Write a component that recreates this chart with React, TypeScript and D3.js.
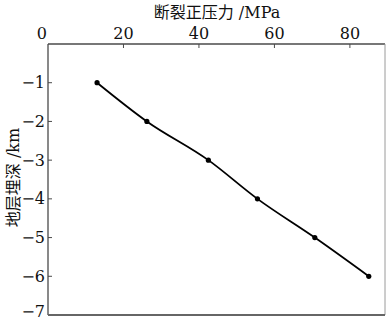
import React from "react";
import * as d3 from "d3";

const pressures = [13, 26.2, 42.5, 55.5, 70.7, 85.0];
const depths = [-1, -2, -3, -4, -5, -6];
const xTicks = [0, 20, 40, 60, 80];
const yTicks = [-1, -2, -3, -4, -5, -6, -7];
const xTitle = "断裂正压力 /MPa";
const yTitle = "地层埋深 /km";

const W = 387;
const H = 321;
const M = { left: 48, top: 44, right: 385, bottom: 315 };
const FONT = '"DejaVu Serif", "Liberation Serif", serif';
const CJK = "Noto Sans CJK SC";

export default function App() {
  const x = d3.scaleLinear().domain([0, 89.3]).range([M.left, M.right]);
  const y = d3.scaleLinear().domain([0, -7]).range([M.top, M.bottom]);
  const pts = pressures.map((p, i) => [p, depths[i]] as [number, number]);
  const line = d3
    .line<[number, number]>()
    .x((d) => x(d[0]))
    .y((d) => y(d[1]))
    .curve(d3.curveMonotoneX);
  const fmt = (v: number) => (v < 0 ? "\u2212" + Math.abs(v) : String(v));
  const axisColor = "#4a4a4a";
  const splitTitle = (s: string) => {
    const i = s.indexOf(" ");
    return [s.slice(0, i), s.slice(i)];
  };
  const [xt1, xt2] = splitTitle(xTitle);
  const [yt1, yt2] = splitTitle(yTitle);
  return (
    <svg
      width={W}
      height={H}
      style={{ position: "fixed", left: 0, top: 0, background: "#fff" }}
    >
      <rect x={0} y={0} width={W} height={H} fill="#fff" />
      <line x1={M.left} x2={M.right} y1={M.top} y2={M.top} stroke={axisColor} strokeWidth={1.3} />
      <line x1={M.left} x2={M.left} y1={M.top} y2={M.bottom} stroke={axisColor} strokeWidth={1.3} />
      <line x1={M.right} x2={M.right} y1={M.top} y2={M.bottom} stroke="#9a9a9a" strokeWidth={1} />
      <line x1={M.left} x2={M.right} y1={M.bottom} y2={M.bottom} stroke="#666" strokeWidth={2} />
      {xTicks.map((t) => (
        <g key={"x" + t}>
          {t !== 0 && (
            <line x1={x(t)} x2={x(t)} y1={M.top} y2={M.top + 4} stroke={axisColor} strokeWidth={1} />
          )}
          <text
            x={t === 0 ? x(t) - 1 : x(t)}
            y={M.top - 5}
            fontSize={16}
            textAnchor={t === 0 ? "end" : "middle"}
            fill="#111"
            fontFamily={FONT}
          >
            {fmt(t)}
          </text>
        </g>
      ))}
      {yTicks.map((t) => (
        <g key={"y" + t}>
          {t !== -7 && (
            <line x1={M.left} x2={M.left + 4} y1={y(t)} y2={y(t)} stroke={axisColor} strokeWidth={1} />
          )}
          <text
            x={M.left - 3}
            y={t === -7 ? y(t) - 4 : y(t)}
            dy="0.35em"
            fontSize={16}
            textAnchor="end"
            fill="#111"
            fontFamily={FONT}
          >
            {fmt(t)}
          </text>
        </g>
      ))}
      <text x={217} y={18} fontSize={16} textAnchor="middle" fill="#111">
        <tspan fontFamily={CJK}>{xt1}</tspan>
        <tspan fontFamily={FONT}>{xt2}</tspan>
      </text>
      <text
        transform={`translate(19, ${(M.top + M.bottom) / 2 - 2}) rotate(-90)`}
        fontSize={16}
        textAnchor="middle"
        fill="#111"
      >
        <tspan fontFamily={CJK}>{yt1}</tspan>
        <tspan fontFamily={FONT}>{yt2}</tspan>
      </text>
      <path d={line(pts) || ""} fill="none" stroke="#000" strokeWidth={1.8} />
      {pts.map((d, i) => (
        <circle key={i} cx={x(d[0])} cy={y(d[1])} r={2.6} fill="#000" />
      ))}
    </svg>
  );
}
